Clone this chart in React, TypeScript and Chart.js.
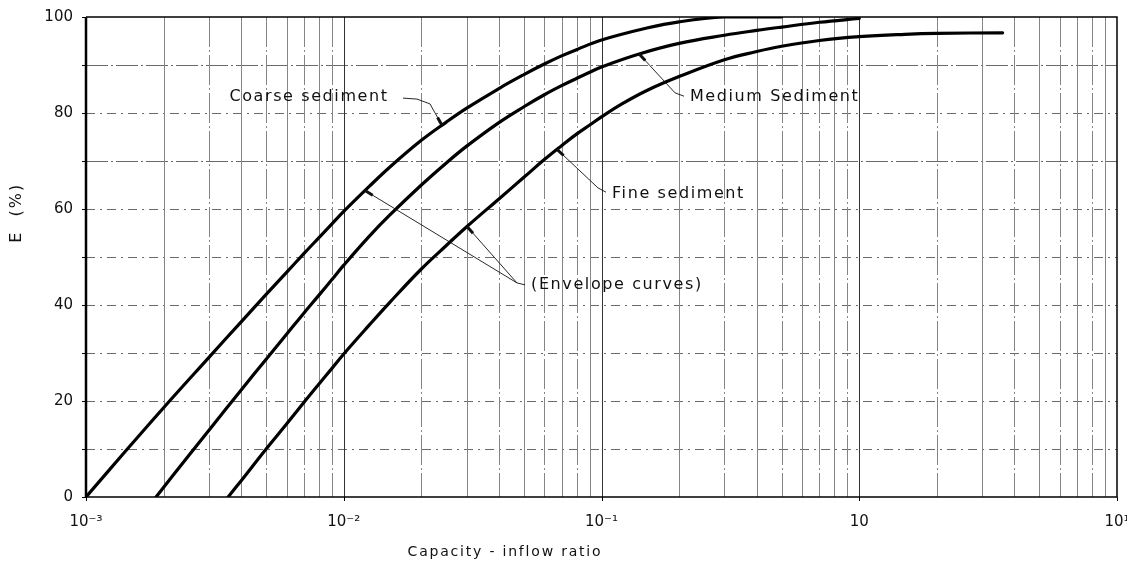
import React, { useEffect, useRef } from "react";
import { Chart, registerables } from "chart.js";

Chart.register(...registerables);

// ---- data (capacity-inflow ratio vs trap efficiency E %) ----
const coarseX = [0.001, 0.0014, 0.002, 0.003, 0.004, 0.005, 0.006, 0.007, 0.008, 0.009, 0.01, 0.0125, 0.015, 0.02, 0.025, 0.03, 0.04, 0.05, 0.06, 0.07, 0.08, 0.1, 0.15, 0.2, 0.3, 0.5];
const coarseE = [0, 9.1, 18.6, 29.1, 36.5, 42.2, 46.8, 50.7, 54.0, 56.9, 59.5, 64.6, 68.6, 74.3, 78.1, 81.0, 85.1, 88.0, 90.2, 91.9, 93.2, 95.2, 97.7, 99.0, 100, 100];

const mediumX = [0.00187, 0.0025, 0.003, 0.004, 0.005, 0.006, 0.007, 0.008, 0.009, 0.01, 0.0125, 0.015, 0.02, 0.025, 0.03, 0.04, 0.05, 0.06, 0.07, 0.08, 0.09, 0.1, 0.14, 0.2, 0.3, 0.4, 0.5, 0.7, 1.0];
const mediumE = [0, 8.6, 13.9, 22.3, 28.7, 33.9, 38.3, 42.0, 45.3, 48.3, 54.2, 58.6, 65.0, 69.6, 73.1, 78.0, 81.3, 83.8, 85.7, 87.2, 88.5, 89.6, 92.3, 94.5, 96.2, 97.2, 97.9, 98.9, 99.7];

const fineX = [0.00356, 0.004, 0.005, 0.006, 0.007, 0.008, 0.009, 0.01, 0.0125, 0.015, 0.02, 0.025, 0.03, 0.04, 0.05, 0.06, 0.07, 0.08, 0.09, 0.1, 0.12, 0.15, 0.2, 0.3, 0.4, 0.5, 0.7, 1.0, 1.5, 2.0, 3.6];
const fineE = [0, 3.4, 10.0, 15.2, 19.7, 23.5, 26.8, 29.8, 35.7, 40.4, 47.5, 52.4, 56.3, 62.1, 66.6, 70.3, 73.2, 75.6, 77.5, 79.2, 81.9, 84.7, 87.6, 91.1, 92.8, 93.9, 95.1, 95.9, 96.4, 96.6, 96.7];

// ---- axes ----
const xTickValues = [0.001, 0.01, 0.1, 1, 10];
const xTickLabels = ["10⁻³", "10⁻²", "10⁻¹", "10", "10¹"];
const xDecades = [0.001, 0.01, 0.1, 1];
const xMultipliers = [1, 2, 3, 4, 5, 6, 7, 8, 9];
const yGridValues = [10, 20, 30, 40, 50, 60, 70, 80, 90];
const xTitle = "Capacity - inflow ratio";
const yTitle = "E  (%)";

// ---- annotations (data coordinates) ----
const annotationTexts = [
  { text: "Coarse sediment", x: 0.0036, y: 83.3 },
  { text: "Medium Sediment", x: 0.2204, y: 83.3 },
  { text: "Fine sediment", x: 0.1098, y: 63.1 },
  { text: "(Envelope curves)", x: 0.0533, y: 44.2 },
];
// leaders: tip on a curve (series + x), then path points
const leaders = [
  { series: "coarse", tipX: 0.02405, path: [[0.0216, 81.9], [0.01924, 82.9], [0.01698, 83.1]] },
  { series: "medium", tipX: 0.14, path: [[0.1928, 84.2], [0.2089, 83.5]] },
  { series: "fine", tipX: 0.0672, path: [[0.0969, 64.4], [0.1041, 63.5]] },
  { series: "coarse", tipX: 0.01209, path: [[0.047, 44.6], [0.0505, 44.2]] },
  { series: "fine", tipX: 0.03008, path: [[0.047, 44.6]] },
];

const FONT = "'DejaVu Sans', 'Liberation Sans', sans-serif";

function seriesOf(name: string): [number[], number[]] {
  if (name === "coarse") return [coarseX, coarseE];
  if (name === "medium") return [mediumX, mediumE];
  return [fineX, fineE];
}

function interpE(xs: number[], es: number[], x: number): number {
  for (let i = 0; i < xs.length - 1; i++) {
    if (x >= xs[i] && x <= xs[i + 1]) {
      const t = (Math.log10(x) - Math.log10(xs[i])) / (Math.log10(xs[i + 1]) - Math.log10(xs[i]));
      return es[i] + t * (es[i + 1] - es[i]);
    }
  }
  return es[es.length - 1];
}

const gridPlugin = {
  id: "logPaperGrid",
  beforeDatasetsDraw(chart: any) {
    const { ctx, chartArea: a, scales } = chart;
    const xs = scales.x;
    const ys = scales.y;
    ctx.save();
    // horizontal lines
    yGridValues.forEach((v) => {
      const py = Math.round(ys.getPixelForValue(v)) + 0.5;
      ctx.beginPath();
      ctx.strokeStyle = "#6a6a6a";
      ctx.lineWidth = 1;
      ctx.setLineDash(v === 90 || v === 70 ? [22, 3, 2, 3] : [9, 5, 2, 5]);
      ctx.moveTo(a.left, py);
      ctx.lineTo(a.right, py);
      ctx.stroke();
    });
    // vertical lines
    const vals: number[] = [];
    xDecades.forEach((d) => xMultipliers.forEach((m) => vals.push(d * m)));
    vals.forEach((v, i) => {
      const px = Math.round(xs.getPixelForValue(v)) + 0.5;
      if (px <= a.left + 1 || px >= a.right - 1) return;
      const isDecade = xDecades.includes(v);
      ctx.beginPath();
      ctx.strokeStyle = isDecade ? "#333" : "#858585";
      ctx.lineWidth = 1;
      ctx.setLineDash(isDecade ? [] : i % 2 === 0 ? [30, 3, 2, 3] : []);
      ctx.moveTo(px, a.top);
      ctx.lineTo(px, a.bottom);
      ctx.stroke();
    });
    ctx.restore();
  },
};

const framePlugin = {
  id: "frame",
  afterDatasetsDraw(chart: any) {
    const { ctx, chartArea: a, scales } = chart;
    ctx.save();
    ctx.setLineDash([]);
    ctx.strokeStyle = "#000";
    ctx.lineWidth = 1.5;
    ctx.beginPath();
    ctx.moveTo(a.left, a.top);
    ctx.lineTo(a.right, a.top);
    ctx.lineTo(a.right, a.bottom);
    ctx.lineTo(a.left, a.bottom);
    ctx.stroke();
    ctx.lineWidth = 2.5;
    ctx.beginPath();
    ctx.moveTo(a.left, a.top);
    ctx.lineTo(a.left, a.bottom);
    ctx.stroke();
    // small y tick marks
    ctx.lineWidth = 1;
    [0, 10, 20, 30, 40, 50, 60, 70, 80, 90, 100].forEach((v) => {
      const py = Math.round(scales.y.getPixelForValue(v)) + 0.5;
      ctx.beginPath();
      ctx.moveTo(a.left - 4, py);
      ctx.lineTo(a.left, py);
      ctx.stroke();
    });
    // small x tick marks at decades
    xTickValues.forEach((v) => {
      const px = Math.round(scales.x.getPixelForValue(v)) + 0.5;
      ctx.beginPath();
      ctx.moveTo(px, a.bottom);
      ctx.lineTo(px, a.bottom + 4);
      ctx.stroke();
    });
    ctx.restore();
  },
};

const annotationPlugin = {
  id: "annotations",
  afterDatasetsDraw(chart: any) {
    const { ctx, scales } = chart;
    const xs = scales.x;
    const ys = scales.y;
    ctx.save();
    ctx.setLineDash([]);
    ctx.strokeStyle = "#111";
    ctx.fillStyle = "#111";
    leaders.forEach((l) => {
      const [sx, se] = seriesOf(l.series);
      const tx = xs.getPixelForValue(l.tipX);
      const ty = ys.getPixelForValue(interpE(sx, se, l.tipX));
      const pts = l.path.map(([vx, vy]) => [xs.getPixelForValue(vx), ys.getPixelForValue(vy)]);
      ctx.lineWidth = 0.9;
      ctx.beginPath();
      ctx.moveTo(tx, ty);
      pts.forEach(([px, py]) => ctx.lineTo(px, py));
      ctx.stroke();
      // thick arrow stub at tip
      const [nx, ny] = pts[0];
      const d = Math.hypot(nx - tx, ny - ty) || 1;
      ctx.lineWidth = 3;
      ctx.beginPath();
      ctx.moveTo(tx, ty);
      ctx.lineTo(tx + ((nx - tx) / d) * 9, ty + ((ny - ty) / d) * 9);
      ctx.stroke();
    });
    ctx.font = `16px ${FONT}`;
    (ctx as any).letterSpacing = "1.6px";
    ctx.textAlign = "left";
    ctx.textBaseline = "middle";
    annotationTexts.forEach((t) => {
      ctx.fillText(t.text, xs.getPixelForValue(t.x), ys.getPixelForValue(t.y));
    });
    ctx.restore();
  },
};

const titlePlugin = {
  id: "axisTitles",
  afterDraw(chart: any) {
    const { ctx, chartArea: a } = chart;
    ctx.save();
    ctx.fillStyle = "#111";
    ctx.font = `14px ${FONT}`;
    (ctx as any).letterSpacing = "1.8px";
    ctx.textAlign = "center";
    ctx.textBaseline = "middle";
    ctx.fillText(xTitle, a.left + (a.right - a.left) * 0.4064, a.bottom + 55);
    ctx.font = `16px ${FONT}`;
    (ctx as any).letterSpacing = "2px";
    ctx.translate(17, a.top + (a.bottom - a.top) * 0.408);
    ctx.rotate(-Math.PI / 2);
    ctx.fillText(yTitle, 0, 0);
    ctx.restore();
  },
};

function toPoints(xs: number[], es: number[]) {
  return xs.map((x, i) => ({ x, y: es[i] }));
}

export default function App() {
  const canvasRef = useRef<HTMLCanvasElement | null>(null);

  useEffect(() => {
    document.body.style.margin = "0";
    const canvas = canvasRef.current;
    if (!canvas) return;
    const lineStyle = {
      borderColor: "#000",
      borderWidth: 3.2,
      pointRadius: 0,
      fill: false,
      tension: 0.4,
      borderCapStyle: "round" as const,
      borderJoinStyle: "round" as const,
    };
    const chart = new Chart(canvas, {
      type: "line",
      data: {
        datasets: [
          { label: "Coarse sediment", data: toPoints(coarseX, coarseE), ...lineStyle },
          { label: "Medium Sediment", data: toPoints(mediumX, mediumE), ...lineStyle },
          { label: "Fine sediment", data: toPoints(fineX, fineE), ...lineStyle },
        ],
      },
      options: {
        animation: false,
        responsive: false,
        devicePixelRatio: 1,
        layout: { padding: { top: 17, right: 10, left: 0, bottom: 0 } },
        plugins: { legend: { display: false }, tooltip: { enabled: false } },
        scales: {
          x: {
            type: "logarithmic",
            min: 0.001,
            max: 10,
            grid: { display: false, drawTicks: false },
            border: { display: false },
            afterBuildTicks: (scale: any) => {
              scale.ticks = xTickValues.map((v) => ({ value: v }));
            },
            afterFit: (scale: any) => {
              scale.height = 70;
              scale.paddingLeft = 0;
              scale.paddingRight = 0;
            },
            ticks: {
              autoSkip: false,
              maxRotation: 0,
              padding: 16,
              color: "#111",
              font: { family: FONT, size: 15 },
              callback: (_v: any, i: number) => xTickLabels[i],
            },
          },
          y: {
            type: "linear",
            min: 0,
            max: 100,
            grid: { display: false, drawTicks: false },
            border: { display: false },
            afterFit: (scale: any) => {
              scale.width = 86;
              scale.paddingTop = 0;
              scale.paddingBottom = 0;
            },
            ticks: {
              stepSize: 20,
              padding: 13,
              color: "#111",
              font: { family: FONT, size: 15 },
            },
          },
        },
      },
      plugins: [gridPlugin, framePlugin, annotationPlugin, titlePlugin],
    } as any);
    return () => chart.destroy();
  }, []);

  return (
    <div style={{ width: 1127, height: 567, background: "#fff" }}>
      <canvas ref={canvasRef} width={1127} height={567} />
    </div>
  );
}
